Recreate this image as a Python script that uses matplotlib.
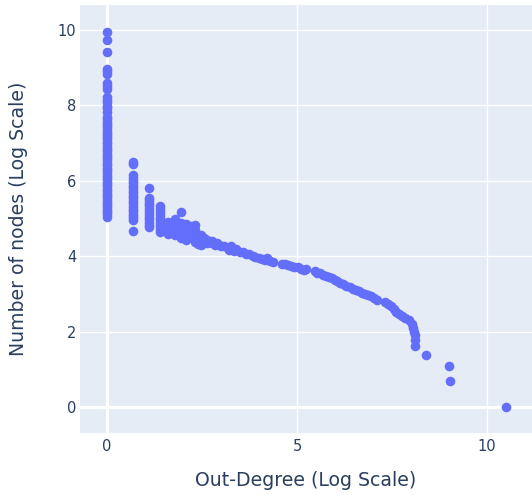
import matplotlib
matplotlib.use("Agg")
import matplotlib.pyplot as plt

# log(out-degree) columns with the log(node count) values
col_x = [0.0, 0.693, 1.099, 1.386, 1.609, 1.792, 1.946, 2.079, 2.197, 2.303,
         2.398, 2.485, 2.565, 2.639, 2.708, 2.773, 2.833, 2.890, 2.944, 2.996]
col_y = [
    [9.95, 9.72, 9.42, 8.97, 8.9, 8.84, 8.58, 8.5, 8.42, 8.22, 8.15, 8.08,
     7.98, 7.92, 7.82, 7.69, 7.63, 7.57, 7.51, 7.45, 7.39, 7.33, 7.27, 7.21,
     7.15, 7.1, 7.03, 6.97, 6.9, 6.84, 6.78, 6.72, 6.66, 6.6, 6.54, 6.48,
     6.41, 6.35, 6.29, 6.22, 6.16, 6.1, 6.04, 5.97, 5.91, 5.85, 5.78, 5.72,
     5.66, 5.6, 5.54, 5.47, 5.41, 5.35, 5.29, 5.23, 5.17, 5.11, 5.05],
    [6.5, 6.45, 6.15, 6.08, 6.0, 5.93, 5.87, 5.8, 5.73, 5.67, 5.6, 5.53,
     5.46, 5.4, 5.33, 5.26, 5.2, 5.13, 5.06, 5.0, 4.95, 4.68],
    [5.8, 5.55, 5.48, 5.42, 5.35, 5.28, 5.2, 5.13, 5.05, 4.98, 4.9, 4.83, 4.76],
    [5.32, 5.25, 5.18, 5.1, 5.02, 4.95, 4.88, 4.8, 4.73, 4.65],
    [4.9, 4.83, 4.76, 4.68, 4.6],
    [4.98, 4.9, 4.8, 4.72, 4.62, 4.55],
    [5.17, 4.88, 4.78, 4.7, 4.6, 4.48],
    [4.85, 4.75, 4.65, 4.55, 4.42],
    [4.8, 4.68, 4.58, 4.5],
    [4.82, 4.7, 4.6, 4.45, 4.38],
    [4.45, 4.38, 4.32],
    [4.55, 4.45, 4.38, 4.3],
    [4.48, 4.4, 4.35],
    [4.42, 4.36],
    [4.38],
    [4.4, 4.35],
    [4.3],
    [4.36],
    [4.3],
    [4.27],
]

# single points further along the tail
tail_x = [3.09, 3.18, 3.22, 3.26, 3.3, 3.33, 3.4, 3.5, 3.58, 3.66, 3.74, 3.83,
          3.9, 4.0, 4.09, 4.16, 4.22, 4.28, 4.36, 4.6, 4.68, 4.76, 4.84, 4.93,
          5.02, 5.1, 5.18, 5.23, 5.48, 5.53, 5.6, 5.68, 5.76, 5.84, 5.92, 6.0,
          6.06, 6.14, 6.22, 6.3, 6.38, 6.46, 6.54, 6.62, 6.7, 6.78, 6.86, 6.94,
          7.02, 7.1, 7.32, 7.4, 7.46, 7.54, 7.6, 7.68, 7.76, 7.84, 7.94, 8.02,
          8.06, 8.08, 8.09, 8.1, 8.11, 8.39, 9.0, 9.02, 10.5]
tail_y = [4.27, 4.22, 4.15, 4.28, 4.2, 4.13, 4.18, 4.1, 4.12, 4.07, 4.05, 4.0,
          3.98, 3.95, 3.92, 3.89, 3.94, 3.87, 3.85, 3.8, 3.78, 3.76, 3.74, 3.72,
          3.7, 3.66, 3.64, 3.66, 3.6, 3.55, 3.54, 3.5, 3.47, 3.44, 3.42, 3.38,
          3.34, 3.3, 3.26, 3.22, 3.18, 3.14, 3.1, 3.07, 3.03, 3.0, 2.96, 2.93,
          2.89, 2.85, 2.79, 2.74, 2.68, 2.6, 2.52, 2.47, 2.42, 2.37, 2.3, 2.2,
          2.1, 2.0, 1.9, 1.78, 1.62, 1.38, 1.1, 0.69, 0.0]

xs = []
ys = []
for x, yl in zip(col_x, col_y):
    for y in yl:
        xs.append(x)
        ys.append(y)
xs += tail_x
ys += tail_y

plt.rcParams['font.family'] = ['DejaVu Sans']
txt = '#2a3f5f'

fig = plt.figure(figsize=(5.32, 4.95), dpi=100)
ax = fig.add_axes([80/532, 62/495, 452/532, 428/495])
ax.set_facecolor('#E5ECF6')
ax.scatter(xs, ys, s=48, color='#636EFA', linewidths=0, zorder=3)

ax.set_xlim(-0.71, 11.18)
ax.set_ylim(-0.69, 10.66)
ax.set_xticks([0, 5, 10])
ax.set_yticks([0, 2, 4, 6, 8, 10])
ax.grid(True, color='white', linewidth=1.0, zorder=0)
ax.axvline(0, color='white', linewidth=2.2, zorder=1)
ax.axhline(0, color='white', linewidth=2.2, zorder=1)
ax.set_axisbelow(True)
for s in ax.spines.values():
    s.set_visible(False)
ax.tick_params(length=0, labelsize=10.5, labelcolor=txt)
ax.tick_params(axis='x', pad=4.5)
ax.tick_params(axis='y', pad=2.5)
ax.set_xlabel('Out-Degree (Log Scale)', fontsize=13.6, color=txt, va='center')
ax.set_ylabel('Number of nodes (Log Scale)', fontsize=13.6, color=txt, va='center')
ax.xaxis.set_label_coords(0.5, (433 - 481) / 428)
ax.yaxis.set_label_coords((19 - 80) / 452, 0.5)

fig.savefig('out.png', dpi=100)
